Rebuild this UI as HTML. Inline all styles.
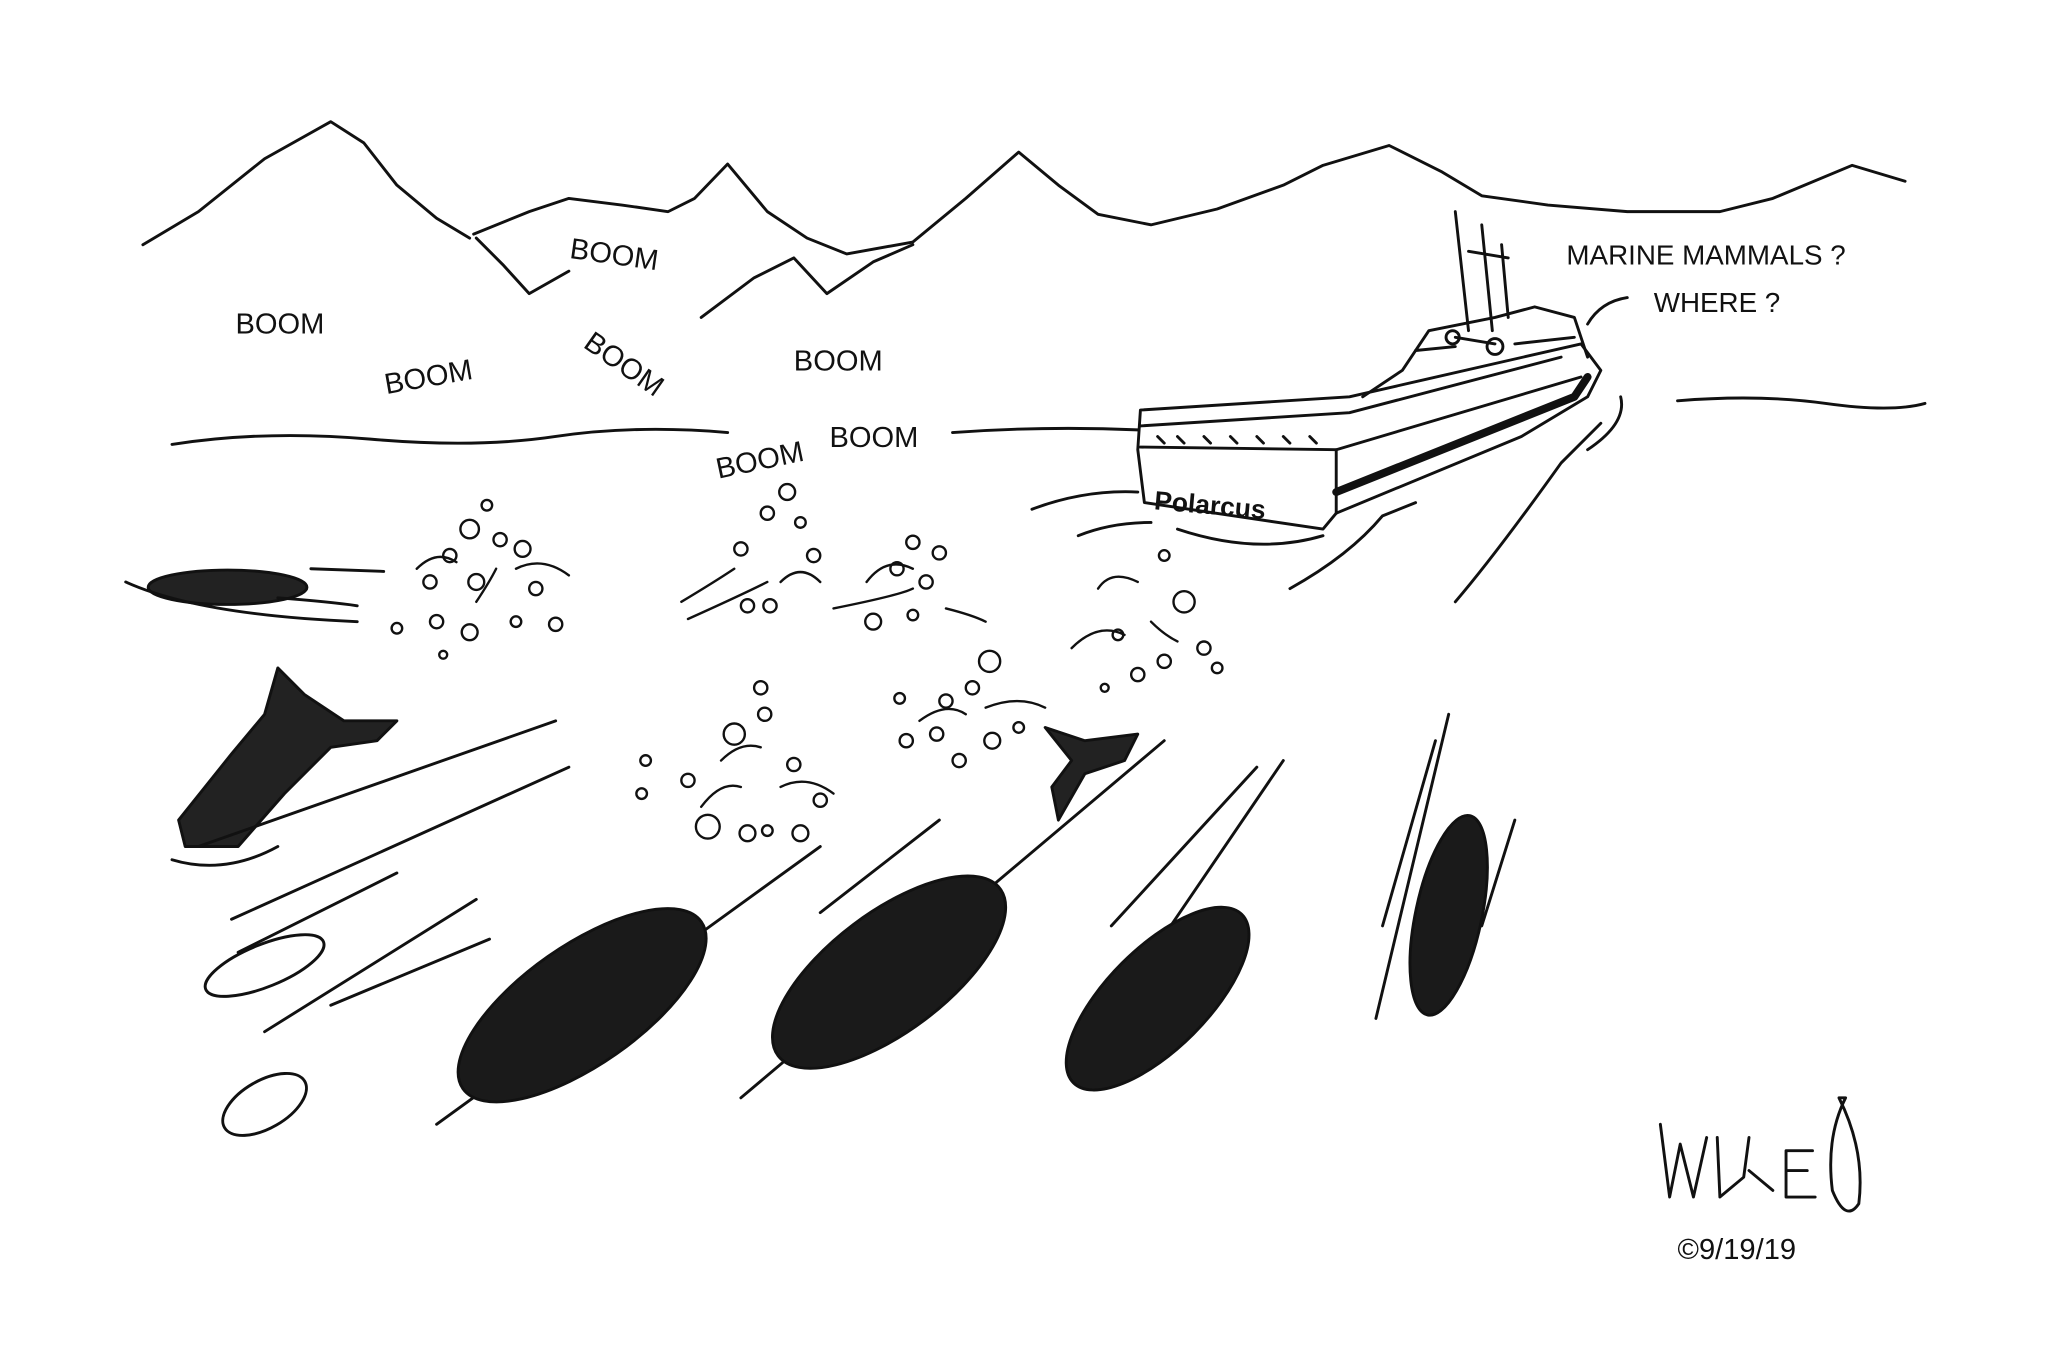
<!DOCTYPE html>
<html><head><meta charset="utf-8"><style>
html,body{margin:0;padding:0;background:#fff;}
svg{display:block}
text{font-family:"Liberation Sans",sans-serif;fill:#111;}
</style></head><body>
<svg width="2048" height="1365" viewBox="0 0 1548 1032" preserveAspectRatio="none" xmlns="http://www.w3.org/2000/svg">
<rect width="1548" height="1032" fill="#fff"/>
<g fill="none" stroke="#111" stroke-width="2.2" stroke-linejoin="round" stroke-linecap="round">
<!-- mountains -->
<path d="M108,185 L150,160 L200,120 L250,92 L275,108 L300,140 L330,165 L355,180"/>
<path d="M358,177 L400,160 L430,150 L470,155 L505,160 L525,150 L550,124 L580,160 L610,180 L640,192 L690,183 L730,150 L770,115 L800,140 L830,162 L870,170 L920,158 L970,140 L1000,125 L1050,110 L1090,130 L1120,148 L1170,155 L1230,160 L1300,160 L1340,150 L1400,125 L1440,137"/>
<path d="M360,180 L380,200 L400,222 L430,205"/>
<path d="M530,240 L570,210 L600,195 L625,222 L660,198 L690,185"/>
<!-- horizon -->
<path d="M130,336 Q200,325 280,332 T420,330 T550,327"/>
<path d="M720,327 Q790,322 860,325"/>
<path d="M1268,303 Q1330,298 1380,305 T1455,305"/>
<!-- ship -->
<path d="M862,310 L1020,300 L1195,260 L1210,280 L1200,300 L1150,330 L1010,388 L1000,400 L865,380 L860,340 Z" fill="#fff"/>
<path d="M862,322 L1020,312 L1180,270"/>
<path d="M862,338 L1010,340 L1195,285"/>
<path d="M1010,340 L1010,388"/>
<path d="M1010,372 L1190,300 L1200,285" stroke-width="6"/>
<path d="M1030,300 L1060,280 L1080,250 L1130,240 L1160,232 L1190,240 L1200,270"/>
<path d="M1100,160 L1110,250 M1120,170 L1128,250 M1135,185 L1140,240 M1110,190 L1140,195"/>
<path d="M1070,265 L1100,262 M1100,255 L1130,260 M1145,260 L1190,255"/>
<circle cx="1098" cy="255" r="5"/><circle cx="1130" cy="262" r="6"/>
<path d="M875,330 L880,335 M890,330 L895,335 M910,330 L915,335 M930,330 L935,335 M950,330 L955,335 M970,330 L975,335 M990,330 L995,335"/>
<!-- wake -->
<path d="M780,385 Q820,370 860,372 M815,405 Q840,395 870,395 M890,400 Q950,420 1000,405 M975,445 Q1020,420 1045,390 L1070,380 M1100,455 Q1130,420 1180,350 L1210,320 M1200,340 Q1230,320 1225,300"/>
<!-- whale 1 surfacing -->
<ellipse cx="172" cy="444" rx="60" ry="13" fill="#222"/>
<path d="M95,440 Q150,465 270,470 M235,430 L290,432 M210,452 Q250,455 270,458"/>
<!-- tails -->
<path d="M210,505 L230,525 L260,545 L300,545 L285,560 L250,565 L215,600 L180,640 L140,640 L135,620 L175,570 L200,540 Z" fill="#222"/>
<path d="M130,650 Q170,662 210,640"/>
<path d="M790,550 L820,560 L860,555 L850,575 L820,585 L800,620 L795,595 L810,575 Z" fill="#222"/>
<!-- speed lines -->
<path d="M150,640 L420,545 M175,695 L430,580 M180,720 L300,660 M200,780 L360,680 M250,760 L370,710 M330,850 L620,640 M560,830 L880,560 M620,690 L710,620 M810,810 L970,575 M840,700 L950,580 M1040,770 L1095,540 M1045,700 L1085,560 M1120,700 L1145,620"/>
<!-- swimming whales -->
<ellipse cx="200" cy="730" rx="48" ry="16" transform="rotate(-22 200 730)" fill="#fff"/>
<ellipse cx="200" cy="835" rx="35" ry="18" transform="rotate(-30 200 835)" fill="#fff"/>
<ellipse cx="440" cy="760" rx="110" ry="45" transform="rotate(-35 440 760)" fill="#1a1a1a"/>
<ellipse cx="672" cy="735" rx="105" ry="45" transform="rotate(-37 672 735)" fill="#1a1a1a"/>
<ellipse cx="875" cy="755" rx="90" ry="38" transform="rotate(-45 875 755)" fill="#1a1a1a"/>
<ellipse cx="1095" cy="692" rx="25" ry="77" transform="rotate(12 1095 692)" fill="#1a1a1a"/>
<!-- splashes -->
<g stroke-width="1.8">
<circle cx="368" cy="382" r="4"/><circle cx="355" cy="400" r="7"/><circle cx="378" cy="408" r="5"/><circle cx="395" cy="415" r="6"/><circle cx="340" cy="420" r="5"/><circle cx="325" cy="440" r="5"/><circle cx="360" cy="440" r="6"/><circle cx="405" cy="445" r="5"/><circle cx="300" cy="475" r="4"/><circle cx="330" cy="470" r="5"/><circle cx="355" cy="478" r="6"/><circle cx="390" cy="470" r="4"/><circle cx="420" cy="472" r="5"/><circle cx="335" cy="495" r="3"/>
<path d="M315,430 Q330,415 345,425 M390,430 Q410,420 430,435 M360,455 Q370,440 375,430"/>
<circle cx="595" cy="372" r="6"/><circle cx="580" cy="388" r="5"/><circle cx="605" cy="395" r="4"/><circle cx="560" cy="415" r="5"/><circle cx="615" cy="420" r="5"/><circle cx="565" cy="458" r="5"/><circle cx="582" cy="458" r="5"/>
<path d="M515,455 Q540,440 555,430 M520,468 Q560,450 580,440 M590,440 Q605,425 620,440"/>
<circle cx="690" cy="410" r="5"/><circle cx="710" cy="418" r="5"/><circle cx="678" cy="430" r="5"/><circle cx="700" cy="440" r="5"/><circle cx="660" cy="470" r="6"/><circle cx="690" cy="465" r="4"/>
<path d="M630,460 Q680,450 690,445 M715,460 Q735,465 745,470 M655,440 Q670,420 690,430"/>
<circle cx="895" cy="455" r="8"/><circle cx="880" cy="420" r="4"/><circle cx="845" cy="480" r="4"/><circle cx="860" cy="510" r="5"/><circle cx="880" cy="500" r="5"/><circle cx="910" cy="490" r="5"/><circle cx="920" cy="505" r="4"/><circle cx="835" cy="520" r="3"/>
<path d="M810,490 Q830,470 850,480 M830,445 Q840,430 860,440 M870,470 Q880,480 890,485"/>
<circle cx="575" cy="520" r="5"/><circle cx="578" cy="540" r="5"/><circle cx="555" cy="555" r="8"/><circle cx="488" cy="575" r="4"/><circle cx="485" cy="600" r="4"/><circle cx="520" cy="590" r="5"/><circle cx="535" cy="625" r="9"/><circle cx="565" cy="630" r="6"/><circle cx="580" cy="628" r="4"/><circle cx="605" cy="630" r="6"/><circle cx="620" cy="605" r="5"/><circle cx="600" cy="578" r="5"/>
<path d="M530,610 Q545,590 560,595 M590,595 Q610,585 630,600 M545,575 Q560,560 575,565"/>
<circle cx="748" cy="500" r="8"/><circle cx="735" cy="520" r="5"/><circle cx="715" cy="530" r="5"/><circle cx="680" cy="528" r="4"/><circle cx="685" cy="560" r="5"/><circle cx="708" cy="555" r="5"/><circle cx="725" cy="575" r="5"/><circle cx="750" cy="560" r="6"/><circle cx="770" cy="550" r="4"/>
<path d="M695,545 Q715,530 730,540 M745,535 Q770,525 790,535"/>
</g>
<!-- speech line -->
<path d="M1200,245 Q1210,228 1230,225"/>
<!-- signature -->
<path d="M1255,850 L1262,905 L1270,865 L1280,905 L1290,860 M1298,860 L1300,905 L1318,890 L1322,860 M1322,885 L1340,900 M1350,870 L1350,905 L1372,905 M1350,885 L1366,885 M1350,870 L1370,870 M1390,830 Q1410,870 1405,910 Q1395,925 1385,900 Q1380,860 1395,830 Z"/>
</g>
<g font-size="22" font-weight="normal">
<text x="178" y="252">BOOM</text>
<text x="292" y="298" transform="rotate(-10 292 298)">BOOM</text>
<text x="430" y="195" transform="rotate(8 430 195)">BOOM</text>
<text x="440" y="262" transform="rotate(35 440 262)">BOOM</text>
<text x="600" y="280">BOOM</text>
<text x="543" y="362" transform="rotate(-12 543 362)">BOOM</text>
<text x="627" y="338">BOOM</text>
<text x="1184" y="200" font-size="21">MARINE MAMMALS ?</text>
<text x="1250" y="236" font-size="21">WHERE ?</text>
<text x="872" y="385" font-size="20" font-weight="bold" transform="rotate(5 872 385)">Polarcus</text>
<text x="1268" y="952" font-size="22">©9/19/19</text>
</g>
</svg>
</body></html>
